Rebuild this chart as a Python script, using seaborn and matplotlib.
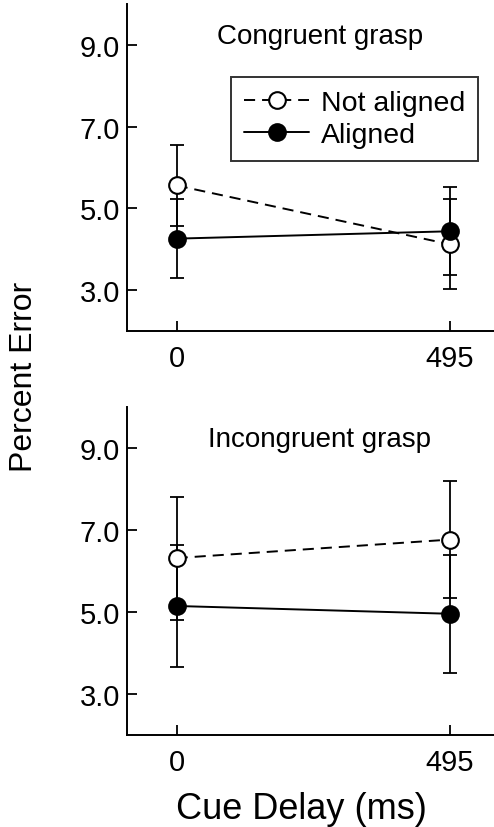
import numpy as np
import seaborn as sns
import pandas as pd
from matplotlib import pyplot as plt

# data (percent error, mean and +/- error)
delays = [0, 495]
groups = ['Not aligned', 'Aligned']
panels = ['Congruent grasp', 'Incongruent grasp']

congruent_not_aligned = [5.56, 4.12]
congruent_aligned = [4.26, 4.44]
congruent_not_aligned_err = [1.0, 1.1]
congruent_aligned_err = [0.96, 1.08]

incongruent_not_aligned = [6.32, 6.77]
incongruent_aligned = [5.15, 4.96]
incongruent_not_aligned_err = [1.5, 1.43]
incongruent_aligned_err = [1.5, 1.44]

y_ticks = [3.0, 5.0, 7.0, 9.0]

rows = []
for panel, na, al, na_e, al_e in [
    (panels[0], congruent_not_aligned, congruent_aligned,
     congruent_not_aligned_err, congruent_aligned_err),
    (panels[1], incongruent_not_aligned, incongruent_aligned,
     incongruent_not_aligned_err, incongruent_aligned_err),
]:
    for i, d in enumerate(delays):
        rows.append({'panel': panel, 'group': groups[0], 'delay': d, 'err': na[i], 'sem': na_e[i]})
        rows.append({'panel': panel, 'group': groups[1], 'delay': d, 'err': al[i], 'sem': al_e[i]})
df = pd.DataFrame(rows)

sns.set_style('ticks', {'text.color': 'black', 'axes.labelcolor': 'black',
                        'xtick.color': 'black', 'ytick.color': 'black',
                        'axes.edgecolor': 'black'})
plt.rcParams['font.family'] = ['Liberation Sans', 'DejaVu Sans']
plt.rcParams['lines.scale_dashes'] = False

styles = {
    'Not aligned': dict(face='white', dashes=(8, 5)),
    'Aligned': dict(face='black', dashes=None),
}

fig = plt.figure(figsize=(4.94, 8.28), dpi=100)
ax_top = fig.add_axes([0.257, 0.599, 0.75, 0.395])
ax_bot = fig.add_axes([0.257, 0.111, 0.75, 0.396])

for ax, panel in zip([ax_top, ax_bot], panels):
    sub = df[df['panel'] == panel]
    for g in groups:
        d = sub[sub['group'] == g]
        ax.errorbar(d['delay'], d['err'], yerr=d['sem'], fmt='none',
                    ecolor='black', elinewidth=1.3, capsize=5, capthick=1.3, zorder=2)
    for g in groups:
        d = sub[sub['group'] == g]
        st = styles[g]
        sns.lineplot(data=d, x='delay', y='err', ax=ax, color='black', lw=1.4,
                     marker='o', markersize=12, markerfacecolor=st['face'],
                     markeredgecolor='black', markeredgewidth=1.5, label=g,
                     legend=False, zorder=3)
        line = ax.get_lines()[-1]
        if st['dashes'] is not None:
            line.set_dashes(st['dashes'])

    ax.set_xlim(-90, 581)
    ax.set_ylim(2.0, 10.0)
    ax.set_xticks(delays)
    ax.set_xticklabels(['0', '495'])
    ax.set_yticks(y_ticks)
    ax.set_yticklabels([f'{v:.1f}' for v in y_ticks])
    ax.tick_params(direction='in', length=7, width=1.3, labelsize=21, pad=5)
    ax.tick_params(axis='x', pad=9)
    sns.despine(ax=ax)
    for s in ['left', 'bottom']:
        ax.spines[s].set_linewidth(1.4)
    ax.set_xlabel('')
    ax.set_ylabel('')
    ax.text(0.52, 0.942, panel, transform=ax.transAxes, ha='center', va='top', fontsize=20)

handles = ax_top.get_lines()[-2:]
ax_top.legend(handles, groups, loc='upper right', bbox_to_anchor=(0.947, 0.777),
              frameon=True, fancybox=False, edgecolor='black', fontsize=20.5,
              handlelength=2.3, handletextpad=0.4, borderpad=0.45, labelspacing=0.22,
              borderaxespad=0)
ax_top.get_legend().get_frame().set_linewidth(1.4)

fig.text(0.048, 0.545, 'Percent Error', rotation=90, ha='center', va='center', fontsize=23)
fig.text(0.61, 0.022, 'Cue Delay (ms)', ha='center', va='center', fontsize=26)

fig.savefig('out.png', dpi=100)
